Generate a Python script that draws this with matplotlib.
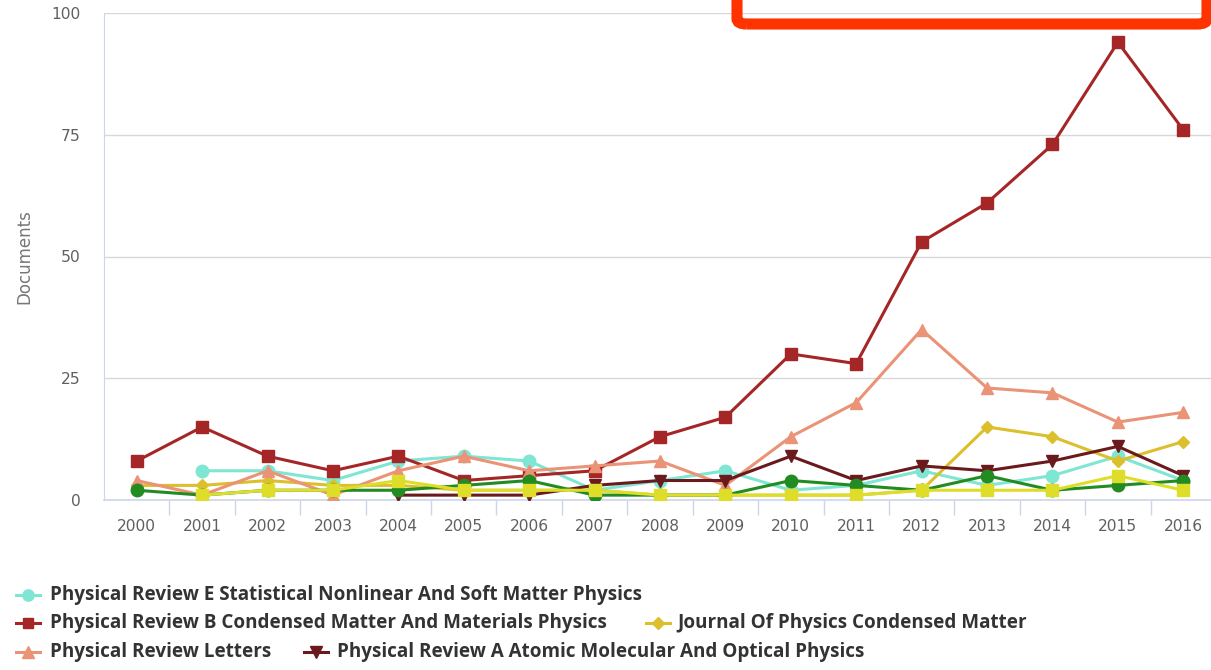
import numpy as np
import matplotlib
matplotlib.use('Agg')
import matplotlib.pyplot as plt
from matplotlib.lines import Line2D
from matplotlib.patches import FancyBboxPatch

# ---- data ----
years = [str(y) for y in range(2000, 2017)]
nan = np.nan
pre  = [nan, 6, 6, 4, 8, 9, 8, 2, 4, 6, 2, 3, 6, 3, 5, 9, 4]
prb  = [8, 15, 9, 6, 9, 4, 5, 6, 13, 17, 30, 28, 53, 61, 73, 94, 76]
jpcm = [3, 3, 4, 3, 3, 2, 2, 2, 1, 1, 1, 1, 2, 15, 13, 8, 12]
prl  = [4, 1, 6, 1, 6, 9, 6, 7, 8, 3, 13, 20, 35, 23, 22, 16, 18]
pra  = [nan, nan, nan, nan, 1, 1, 1, 3, 4, 4, 9, 4, 7, 6, 8, 11, 5]
green = [2, 1, 2, 2, 2, 3, 4, 1, 1, 1, 4, 3, 2, 5, 2, 3, 4]
lemon = [nan, 1, 2, 2, 4, 2, 2, 2, 1, 1, 1, 1, 2, 2, 2, 5, 2]
yticks = [0, 25, 50, 75, 100]

series = [
    ('Physical Review E Statistical Nonlinear And Soft Matter Physics', pre, '#7fe6d3', 'o'),
    ('Physical Review B Condensed Matter And Materials Physics', prb, '#a52626', 's'),
    ('Journal Of Physics Condensed Matter', jpcm, '#dcbf2c', 'D'),
    ('Physical Review Letters', prl, '#ea9377', '^'),
    ('Physical Review A Atomic Molecular And Optical Physics', pra, '#6a1a1d', 'v'),
    (None, green, '#228b22', 'o'),
    (None, lemon, '#dede2a', 's'),
]
msize = {'o': 9, 's': 8.5, 'D': 6.5, '^': 9, 'v': 9}

W, H = 1211, 670
fig = plt.figure(figsize=(W / 100, H / 100), dpi=100)
ax = fig.add_axes([104 / W, 170 / H, 1112 / W, 487 / H])

x = np.arange(len(years))
for name, vals, col, mk in series:
    ax.plot(x, vals, color=col, lw=2.2, marker=mk, ms=msize[mk], mec=col, zorder=3)

ax.set_xlim(-0.5, len(years) - 0.5)
ax.set_ylim(0, 100)
ax.set_yticks(yticks)
ax.set_yticklabels([str(v) for v in yticks])
ax.set_xticks(x)
ax.set_xticklabels(years)
ax.set_xticks(np.arange(len(years)) + 0.5, minor=True)
ax.tick_params(axis='x', which='major', length=0, pad=14, labelsize=11.2, labelcolor='#606060')
ax.tick_params(axis='x', which='minor', length=11, width=1, color='#ccd6eb')
ax.tick_params(axis='y', length=0, pad=17, labelsize=11.2, labelcolor='#606060')
ax.grid(axis='y', color='#d8d8d8', lw=1)
ax.set_axisbelow(True)
for s in ['top', 'right']:
    ax.spines[s].set_visible(False)
ax.spines['left'].set_color('#ccd6eb')
ax.spines['bottom'].set_color('#ccd6eb')
ax.spines['bottom'].set_linewidth(1.2)
ax.set_ylabel('Documents', color='#777777', fontsize=12, labelpad=13)

# ---- legend, laid out like the reference ----
rows = [(595, [(0, 28, 50)]), (623, [(1, 28, 50), (2, 658, 677)]),
        (652, [(3, 28, 50), (4, 316, 337)])]
for ypix, items in rows:
    yf = 1 - ypix / H
    for idx, mx, tx in items:
        name, vals, col, mk = series[idx]
        fig.add_artist(Line2D([(mx - 12) / W, (mx + 12) / W], [yf, yf], color=col, lw=2.2,
                              transform=fig.transFigure))
        fig.add_artist(Line2D([mx / W], [yf], color=col, marker=mk, ms=msize[mk] * 0.9,
                              mec=col, transform=fig.transFigure))
        fig.text(tx / W, yf, name, fontsize=13.6, fontweight='bold', color='#333333',
                 va='center', ha='left', family='Open Sans')

# ---- red highlight box at the top right ----
box = FancyBboxPatch((737 / W, 1 - 24 / H), (1207 - 737) / W, 0.2,
                     boxstyle='round,pad=0,rounding_size=0.008', fill=False,
                     ec='#ff3300', lw=8, transform=fig.transFigure, clip_on=False)
fig.add_artist(box)

fig.savefig('out.png', dpi=100)
